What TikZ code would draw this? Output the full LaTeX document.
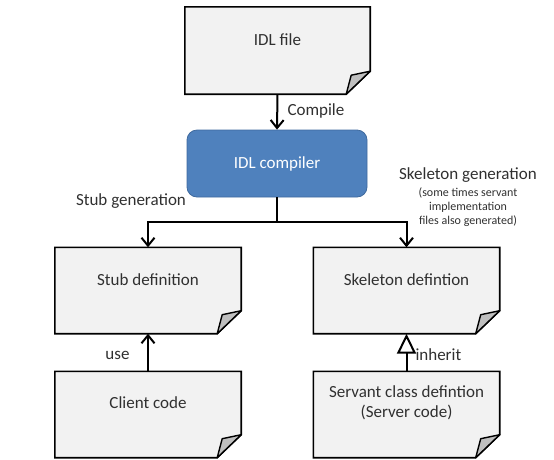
\documentclass[tikz,border=0pt]{standalone}
\usepackage{fontspec}
\setmainfont{Carlito}
\usetikzlibrary{arrows.meta,backgrounds}

\definecolor{notefill}{HTML}{F2F2F2}
\definecolor{foldfill}{HTML}{BFBFBF}
\definecolor{compfill}{HTML}{4F81BD}
\definecolor{compline}{HTML}{3F6A9E}
\definecolor{inktext}{HTML}{303030}

\tikzset{
  notebox/.style={minimum width=186pt, minimum height=86pt, inner sep=0pt, draw=none},
  notetext/.style={font=\fontsize{17}{20}\selectfont, text=inktext, align=center},
  compbox/.style={minimum width=180pt, minimum height=67pt, rounded corners=10pt,
    fill=compfill, draw=compline, line width=0.8pt,
    font=\fontsize{17}{20}\selectfont, text=white},
  flow/.style={line width=2pt, arrows={-Straight Barb[length=8pt,width=13pt]}},
  inheritarrow/.style={line width=2pt, arrows={-Triangle[open,length=20pt,width=19pt]}},
  lbl/.style={font=\fontsize{17}{20}\selectfont, text=inktext},
  smalllbl/.style={font=\fontsize{12}{14}\selectfont, text=inktext, align=center},
  notebody/.style={fill=notefill, draw=black, line width=1.6pt, line join=miter},
  notefold/.style={fill=foldfill, draw=black, line width=1.4pt, line join=round},
}

\begin{document}
\begin{tikzpicture}[x=1pt,y=-1pt]
  \useasboundingbox (0,0) rectangle (554,459);

  % document boxes
  \node[notebox, minimum width=185pt, minimum height=87pt] (idl) at (277.5,50.5) {};
  \node[notebox] (stub)    at (148,290.5) {};
  \node[notebox] (skel)    at (406.5,290.5) {};
  \node[notebox] (client)  at (148,414.5) {};
  \node[notebox] (servant) at (406.5,414.5) {};

  % folded-corner note shapes behind the text
  \begin{scope}[on background layer]
    \foreach \n in {idl,stub,skel,client,servant}{
      \draw[notebody] (\n.north west) -- (\n.north east) -- ([yshift=23pt]\n.south east)
        -- ([xshift=-24pt]\n.south east) -- (\n.south west) -- cycle;
      \draw[notefold] ([yshift=23pt]\n.south east) -- ([xshift=-19pt,yshift=19pt]\n.south east)
        -- ([xshift=-24pt]\n.south east) -- cycle;
    }
  \end{scope}

  % box captions
  \node[notetext] (idltext) at (277.5,40) {IDL file};
  \node[notetext] (stubtext) at (148,280) {Stub definition};
  \node[notetext] (skeltext) at (406.5,280) {Skeleton defintion};
  \node[notetext] (clienttext) at (148,403) {Client code};
  \node[notetext] (servanttext) at (406.5,403) {Servant class defintion\\(Server code)};

  % compiler
  \node[compbox] (comp) at (277,163.5) {IDL compiler};

  % connectors
  \draw[flow] (idl.south) -- (comp.north);
  \node[lbl, anchor=west] (compile) at (284,111) {Compile};

  \coordinate (split) at (277,222);
  \draw[line width=2pt] (comp.south) -- (split);
  \draw[flow] (split) -| (stub.north);
  \draw[flow] (split) -| (skel.north);

  \draw[flow] (client.north) -- (stub.south);
  \draw[inheritarrow] (servant.north) -- (skel.south);

  % labels
  \node[lbl] (stubgen) at (131,201) {Stub generation};
  \node[lbl] (skelgen) at (468,175) {Skeleton generation};
  \node[smalllbl] (skelnote) at (468,207) {(some times servant\\implementation\\files also generated)};
  \node[lbl] (use) at (117.5,355) {use};
  \node[lbl, anchor=west] (inherit) at (412,355) {inherit};
\end{tikzpicture}
\end{document}
